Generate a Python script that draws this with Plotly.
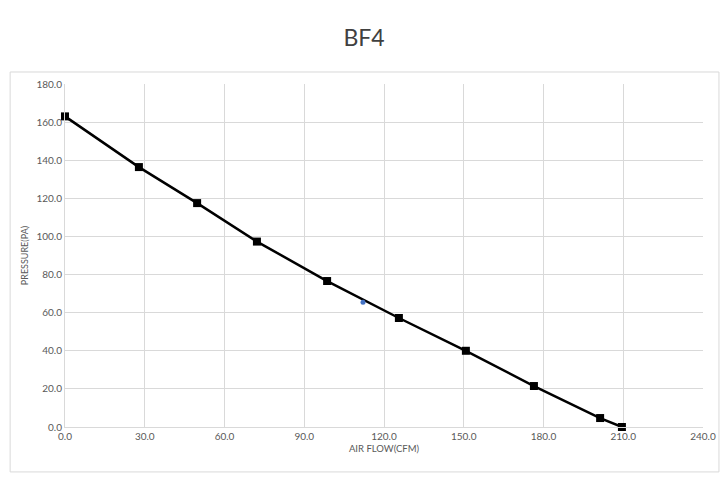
import plotly.graph_objects as go

airflow = [0.0, 27.8, 49.7, 72.2, 98.6, 125.6, 150.8, 176.4, 201.3, 209.5]
pressure = [163.0, 136.4, 117.5, 97.3, 76.6, 57.2, 40.0, 21.5, 4.7, 0.0]
extra_x = [112.1]
extra_y = [65.5]

x_ticks = [0, 30, 60, 90, 120, 150, 180, 210, 240]
y_ticks = [0, 20, 40, 60, 80, 100, 120, 140, 160, 180]

fig = go.Figure()
fig.add_trace(go.Scatter(x=airflow, y=pressure, mode="lines+markers",
                         line=dict(color="black", width=2.5),
                         marker=dict(symbol="square", size=8, color="black"),
                         showlegend=False, cliponaxis=False))
fig.add_trace(go.Scatter(x=extra_x, y=extra_y, mode="markers",
                         marker=dict(symbol="circle", size=5, color="#4472c4"),
                         showlegend=False))

font_fam = "Lato, Open Sans, sans-serif"
fig.update_layout(
    width=712, height=477,
    margin=dict(l=57, r=17, t=76, b=58),
    paper_bgcolor="white", plot_bgcolor="white",
    title=dict(text="BF4", x=0.5, xanchor="center", y=1 - 30 / 477, yanchor="middle",
               font=dict(family=font_fam, size=23, color="#404040")),
    font=dict(family=font_fam, color="#595959"),
    xaxis=dict(range=[0, 240], tickvals=x_ticks,
               ticktext=[f"{v:.1f}" for v in x_ticks],
               showgrid=True, gridcolor="#d9d9d9", gridwidth=1,
               zeroline=False, showline=True, linecolor="#d9d9d9",
               tickfont=dict(size=10, color="#595959"),
               title=dict(text="AIR FLOW(CFM)", font=dict(size=9.5, color="#595959"), standoff=4),
               ticks="", mirror=False, automargin=False),
    yaxis=dict(range=[0, 180], tickvals=y_ticks,
               ticktext=[f"{v:.1f}" for v in y_ticks],
               showgrid=True, gridcolor="#d9d9d9", gridwidth=1,
               zeroline=False, showline=True, linecolor="#d9d9d9",
               tickfont=dict(size=10, color="#595959"),
               title=dict(text="PRESSURE(PA)", font=dict(size=9, color="#595959"), standoff=6),
               ticks="", automargin=False),
    shapes=[dict(type="rect", xref="paper", yref="paper",
                 x0=-0.086, x1=1.025, y0=-0.131, y1=1.035,
                 line=dict(color="#d9d9d9", width=1), layer="below")],
)

fig.write_html("out.html")
